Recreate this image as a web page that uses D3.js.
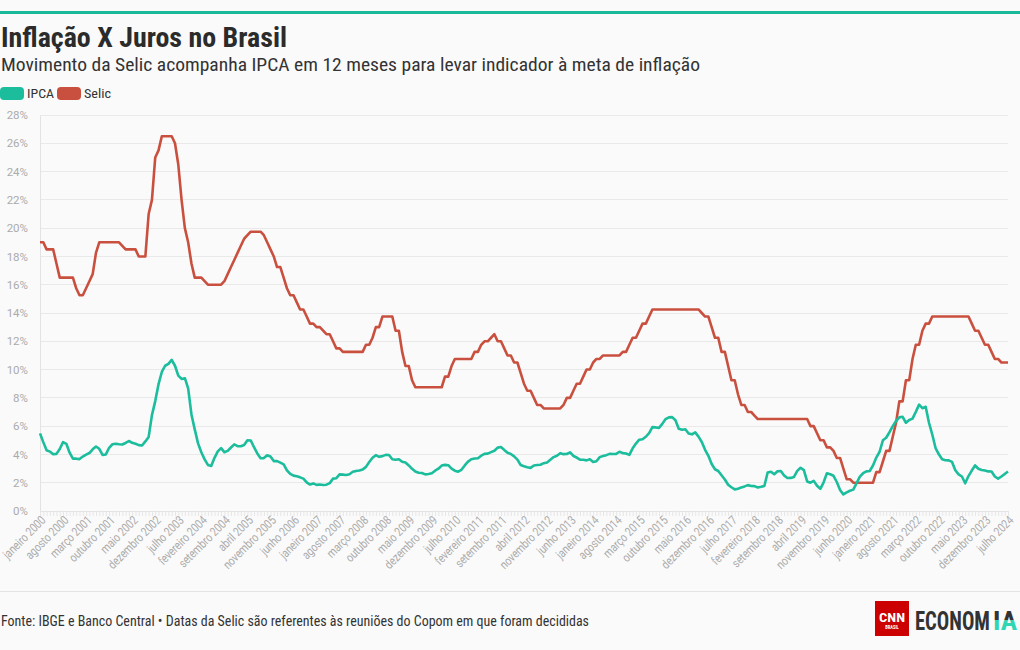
<!DOCTYPE html>
<html><head><meta charset="utf-8">
<script src="https://cdn.jsdelivr.net/npm/d3@7"></script>
<style>
html,body{margin:0;padding:0;background:#fafafa;}
svg{display:block;font-family:"Roboto Condensed","Liberation Sans Narrow",Roboto,sans-serif;}
</style></head><body>
<svg id="c" width="1020" height="650"></svg>
<script>
// ---------- DATA ----------
const monthNames = ["janeiro","fevereiro","março","abril","maio","junho","julho","agosto","setembro","outubro","novembro","dezembro"];
const years = d3.range(2000, 2025);
const lastMonthIndex2024 = 6; // julho 2024

const tickLabels = ["janeiro 2000","agosto 2000","março 2001","outubro 2001","maio 2002","dezembro 2002","julho 2003",
"fevereiro 2004","setembro 2004","abril 2005","novembro 2005","junho 2006","janeiro 2007","agosto 2007","março 2008",
"outubro 2008","maio 2009","dezembro 2009","julho 2010","fevereiro 2011","setembro 2011","abril 2012","novembro 2012",
"junho 2013","janeiro 2014","agosto 2014","março 2015","outubro 2015","maio 2016","dezembro 2016","julho 2017",
"fevereiro 2018","setembro 2018","abril 2019","novembro 2019","junho 2020","janeiro 2021","agosto 2021","março 2022",
"outubro 2022","maio 2023","dezembro 2023","julho 2024"];

const yTicks = [0,2,4,6,8,10,12,14,16,18,20,22,24,26,28];

const ipca = [
5.49,4.87,4.29,4.20,4.01,4.04,4.38,4.87,4.75,4.12,3.70,3.70,
3.67,3.85,3.99,4.10,4.36,4.56,4.40,3.97,4.00,4.47,4.72,4.76,
4.72,4.70,4.81,4.95,4.82,4.75,4.66,4.63,4.92,5.24,6.78,7.77,
8.97,9.83,10.27,10.40,10.69,10.27,9.57,9.34,9.39,8.67,6.83,5.77,
4.78,4.15,3.65,3.26,3.19,3.76,4.22,4.45,4.16,4.25,4.49,4.71,
4.59,4.58,4.67,5.00,4.99,4.51,4.07,3.73,3.74,3.94,3.86,3.53,
3.53,3.42,3.30,2.87,2.62,2.50,2.46,2.38,2.29,2.02,1.87,1.95,
1.85,1.87,1.84,1.86,1.97,2.29,2.32,2.59,2.57,2.55,2.60,2.77,
2.83,2.86,2.93,3.12,3.46,3.76,3.95,3.83,3.88,3.97,3.96,3.66,
3.62,3.66,3.48,3.43,3.22,2.98,2.79,2.70,2.69,2.59,2.62,2.67,
2.85,2.99,3.21,3.26,3.24,3.00,2.85,2.78,2.91,3.22,3.49,3.66,
3.71,3.73,3.91,4.04,4.06,4.16,4.26,4.48,4.53,4.32,4.12,4.03,
3.86,3.63,3.25,3.16,3.09,3.05,3.22,3.25,3.27,3.38,3.43,3.62,
3.81,3.91,4.09,4.02,4.03,4.15,3.89,3.78,3.63,3.62,3.58,3.66,
3.47,3.52,3.81,3.89,3.95,4.04,4.03,4.04,4.19,4.09,4.07,3.97,
4.43,4.77,5.04,5.07,5.25,5.51,5.93,5.91,5.88,6.16,6.50,6.62,
6.64,6.42,5.82,5.75,5.78,5.48,5.42,5.56,5.26,4.88,4.33,3.90,
3.32,2.95,2.83,2.53,2.23,1.86,1.68,1.53,1.57,1.67,1.74,1.83,
1.77,1.76,1.66,1.71,1.77,2.72,2.78,2.60,2.81,2.83,2.51,2.33,
2.34,2.41,2.84,3.06,2.89,2.09,2.00,2.13,1.79,1.57,2.03,2.67,
2.60,2.49,2.05,1.49,1.17,1.32,1.43,1.51,1.95,2.43,2.67,2.80,
2.83,3.22,3.78,4.19,5.00,5.18,5.57,6.00,6.36,6.62,6.66,6.24,
6.44,6.53,7.01,7.52,7.27,7.37,6.24,5.41,4.45,4.01,3.66,3.59,
3.58,3.47,2.88,2.59,2.44,1.96,2.47,2.86,3.22,2.99,2.90,2.86,
2.80,2.79,2.44,2.29,2.44,2.62,2.79];

const selic = [
19,19,18.5,18.5,18.5,17.5,16.5,16.5,16.5,16.5,16.5,15.75,
15.25,15.25,15.75,16.25,16.75,18.25,19,19,19,19,19,19,
19,18.75,18.5,18.5,18.5,18.5,18,18,18,21,22,25,
25.5,26.5,26.5,26.5,26.5,26,24.5,22,20,19,17.5,16.5,
16.5,16.5,16.25,16,16,16,16,16,16.25,16.75,17.25,17.75,
18.25,18.75,19.25,19.5,19.75,19.75,19.75,19.75,19.5,19,18.5,18,
17.25,17.25,16.5,15.75,15.25,15.25,14.75,14.25,14.25,13.75,13.25,13.25,
13,13,12.75,12.5,12.5,12,11.5,11.5,11.25,11.25,11.25,11.25,
11.25,11.25,11.25,11.75,11.75,12.25,13,13,13.75,13.75,13.75,13.75,
12.75,12.75,11.25,10.25,10.25,9.25,8.75,8.75,8.75,8.75,8.75,8.75,
8.75,8.75,8.75,9.5,9.5,10.25,10.75,10.75,10.75,10.75,10.75,10.75,
11.25,11.25,11.75,12,12,12.25,12.5,12,12,11.5,11,11,
10.5,10.5,9.75,9,8.5,8.5,8,7.5,7.5,7.25,7.25,7.25,
7.25,7.25,7.25,7.5,8,8,8.5,9,9,9.5,10,10,
10.5,10.75,10.75,11,11,11,11,11,11,11.25,11.25,11.75,
12.25,12.25,12.75,13.25,13.25,13.75,14.25,14.25,14.25,14.25,14.25,14.25,
14.25,14.25,14.25,14.25,14.25,14.25,14.25,14.25,14.25,14,13.75,13.75,
13,12.25,12.25,11.25,11.25,10.25,9.25,9.25,8.25,7.5,7.5,7,
7,6.75,6.5,6.5,6.5,6.5,6.5,6.5,6.5,6.5,6.5,6.5,
6.5,6.5,6.5,6.5,6.5,6.5,6,6,5.5,5,5,4.5,
4.5,4.25,3.75,3.75,3,2.25,2.25,2,2,2,2,2,
2,2,2.75,2.75,3.5,4.25,4.25,5.25,6.25,7.75,7.75,9.25,
9.25,10.75,11.75,11.75,12.75,13.25,13.25,13.75,13.75,13.75,13.75,13.75,
13.75,13.75,13.75,13.75,13.75,13.75,13.75,13.25,12.75,12.75,12.25,11.75,
11.75,11.25,10.75,10.75,10.5,10.5,10.5];

const seriesNames = ["IPCA","Selic"];
const seriesColors = ["#1bbd9c","#c9503f"];

// categories: one per month, janeiro 2000 .. julho 2024
const categories = [];
years.forEach(yr => monthNames.forEach((m, mi) => {
  if (yr < 2024 || mi <= lastMonthIndex2024) categories.push(m + " " + yr);
}));

// ---------- DRAW ----------
const svg = d3.select("#c");
const W = 1020, H = 650;
svg.append("rect").attr("width", W).attr("height", H).attr("fill", "#fafafa");

// helper: squeeze a text horizontally so it spans a target width
function fitWidth(sel, x0, target) {
  const w = sel.node().getComputedTextLength();
  const k = target / w;
  const yv = +sel.attr("y");
  sel.attr("x", 0).attr("y", 0).attr("transform", `translate(${x0},${yv}) scale(${k},1)`);
}

// top bar
svg.append("rect").attr("x", 0).attr("y", 11).attr("width", W).attr("height", 3).attr("fill", "#1ab99a");

// title & subtitle
svg.append("text").attr("x", 1).attr("y", 47).attr("font-size", 27).attr("font-weight", 700)
  .attr("fill", "#2b2b2b").attr("textLength", 286).attr("lengthAdjust", "spacingAndGlyphs")
  .text("Inflação X Juros no Brasil");
svg.append("text").attr("x", 1).attr("y", 71).attr("font-size", 19).attr("font-weight", 400)
  .attr("fill", "#333").attr("textLength", 699).attr("lengthAdjust", "spacingAndGlyphs")
  .text("Movimento da Selic acompanha IPCA em 12 meses para levar indicador à meta de inflação");

// legend
const legendX = [0, 57], legendTextW = [27, 27];
seriesNames.forEach((n, i) => {
  svg.append("rect").attr("x", legendX[i]).attr("y", 87).attr("width", 24).attr("height", 13)
    .attr("rx", 4).attr("fill", seriesColors[i]);
  svg.append("text").attr("x", legendX[i] + 27).attr("y", 98).attr("font-size", 13.5)
    .attr("fill", "#333").attr("textLength", legendTextW[i]).attr("lengthAdjust", "spacingAndGlyphs").text(n);
});

// scales
const x = d3.scalePoint().domain(categories).range([40, 1008]);
const y = d3.scaleLinear().domain([0, 28]).range([511, 115]);

// gridlines
svg.append("g").selectAll("line").data(yTicks.filter(d => d > 0)).join("line")
  .attr("x1", 40).attr("x2", 1008).attr("y1", d => y(d)).attr("y2", d => y(d))
  .attr("stroke", "#e9e9e9").attr("stroke-width", 1).attr("shape-rendering", "crispEdges");

// y axis
const yAxis = svg.append("g").attr("transform", "translate(40,0)")
  .call(d3.axisLeft(y).tickValues(yTicks).tickFormat(d => d + "%").tickSize(0).tickPadding(12));
yAxis.select(".domain").attr("stroke", "#e3e3e3").attr("shape-rendering", "crispEdges");
yAxis.selectAll("text").attr("font-size", 11.5).attr("fill", "#ababab")
  .attr("font-family", "Roboto, sans-serif");

// x axis minor ticks (every month)
const xMinor = svg.append("g").attr("transform", "translate(0,511)")
  .call(d3.axisBottom(x).tickValues(categories).tickFormat("").tickSize(5));
xMinor.select(".domain").attr("stroke", "#e3e3e3").attr("shape-rendering", "crispEdges");
xMinor.selectAll(".tick line").attr("stroke", "#e6e6e6");

// x axis labels
const xAxis = svg.append("g").attr("transform", "translate(0,511)")
  .call(d3.axisBottom(x).tickValues(tickLabels).tickSize(0));
xAxis.select(".domain").remove();
xAxis.selectAll("text").attr("font-size", 12.4).attr("fill", "#ababab")
  .attr("font-family", "Roboto, sans-serif")
  .attr("text-anchor", "end").attr("dy", null).attr("y", 0)
  .attr("transform", "translate(6,10) rotate(-45) scale(0.8,1)");

// lines
const line = d3.line().x((d, i) => x(categories[i])).y(d => y(d));
[selic, ipca].forEach((s, k) => {
  const col = k === 0 ? seriesColors[1] : seriesColors[0];
  svg.append("path").datum(s).attr("d", line).attr("fill", "none")
    .attr("stroke", col).attr("stroke-width", 2.6).attr("stroke-linejoin", "round");
});

// footer
svg.append("line").attr("x1", 0).attr("x2", W).attr("y1", 591.5).attr("y2", 591.5)
  .attr("stroke", "#e4e4e4");
svg.append("text").attr("x", 1).attr("y", 626).attr("font-size", 14).attr("fill", "#333")
  .attr("textLength", 588).attr("lengthAdjust", "spacingAndGlyphs")
  .text("Fonte: IBGE e Banco Central • Datas da Selic são referentes às reuniões do Copom em que foram decididas");

// logo
const logo = svg.append("g");
logo.append("rect").attr("x", 875).attr("y", 601).attr("width", 34).attr("height", 35).attr("fill", "#cc0000");
logo.append("text").attr("x", 892).attr("y", 622).attr("text-anchor", "middle").attr("font-size", 13)
  .attr("font-weight", 700).attr("fill", "#fff").attr("textLength", 26).attr("lengthAdjust", "spacingAndGlyphs").text("CNN");
logo.append("text").attr("x", 892).attr("y", 629).attr("text-anchor", "middle").attr("font-size", 4.5)
  .attr("font-weight", 700).attr("fill", "#fff").text("BRASIL");
const defs = svg.append("defs");
const grad = defs.append("linearGradient").attr("id", "ia")
  .attr("gradientUnits", "userSpaceOnUse").attr("x1", 0).attr("x2", 0).attr("y1", -18).attr("y2", 0);
grad.append("stop").attr("offset", "0.45").attr("stop-color", "#333");
grad.append("stop").attr("offset", "0.46").attr("stop-color", "#2fd6b4");
const eco1 = logo.append("text").attr("x", 915).attr("y", 630).attr("font-size", 25).attr("font-weight", 700)
  .attr("fill", "#333").text("ECONOM");
fitWidth(eco1, 915, 75);
const eco2 = logo.append("text").attr("x", 993).attr("y", 630).attr("font-size", 25).attr("font-weight", 700)
  .attr("fill", "url(#ia)").text("IA");
fitWidth(eco2, 993, 24);
</script>
</body></html>
